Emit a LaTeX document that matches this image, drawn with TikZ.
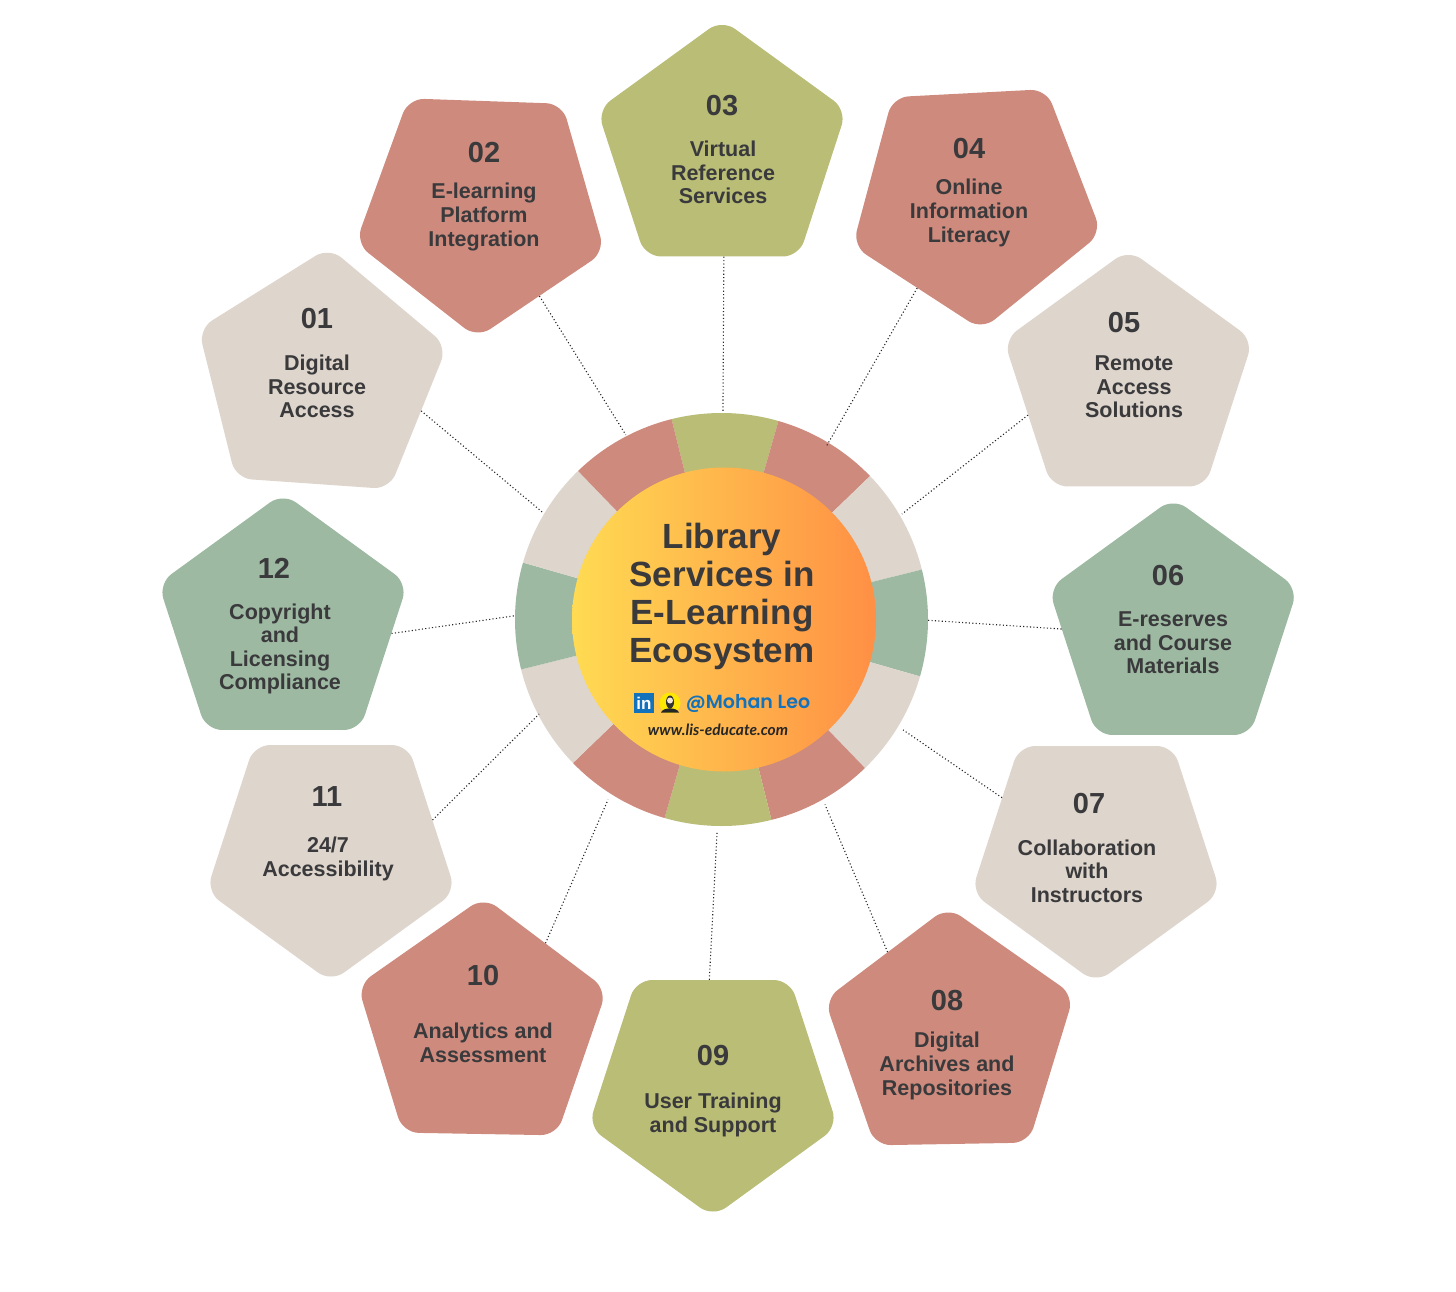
\documentclass[tikz,border=0pt]{standalone}
\usepackage{fontspec}
\setmainfont{Liberation Sans}
\newfontfamily\brandfont[BoldFont={Poppins SemiBold}]{Poppins}
\newfontfamily\webfont{Lato}
\usetikzlibrary{shapes.geometric}
\definecolor{olivec}{HTML}{B9BD76}
\definecolor{redc}{HTML}{CD8A7D}
\definecolor{beigec}{HTML}{DED5CC}
\definecolor{sagec}{HTML}{9EB9A2}
\definecolor{inkc}{HTML}{3A3A3C}
\definecolor{bluec}{HTML}{1272BC}
\definecolor{hubleft}{HTML}{FFDB52}
\definecolor{hubright}{HTML}{FF8F45}
\tikzset{
  pent/.style={regular polygon,regular polygon sides=5,minimum size=262pt,inner sep=0pt,rounded corners=16pt},
  numlab/.style={inkc,font=\bfseries\fontsize{29}{30}\selectfont},
  txtlab/.style={inkc,align=center,font=\bfseries\fontsize{21.5}{23.6}\selectfont},
  dotline/.style={line width=1.1pt,dash pattern=on 1.1pt off 2.3pt,black!85}
}
\begin{document}
\begin{tikzpicture}[x=1pt,y=1pt]
\useasboundingbox (0,0) rectangle (1456,-1292);

\node[circle,minimum size=413pt,inner sep=0pt] (ring) at (721.5,-619.5) {};
\foreach \a/\c in {74/olivec,44/redc,14/beigec,-16/sagec,-46/beigec,-76/redc,-106/olivec,-136/redc,-166/beigec,164/sagec,134/beigec,104/redc} {
  \fill[\c] (ring.center) -- ++(\a:206.5) arc[start angle=\a,delta angle=30,radius=206.5] -- cycle;
}
\node[circle,minimum size=304pt,inner sep=0pt,left color=hubleft,right color=hubright,draw=none] (hub) at (724,-619.5) {};
\node[inkc,align=center,font=\bfseries\fontsize{35}{38}\selectfont] (title) at (722,-596) {Library\\Services in\\E-Learning\\Ecosystem};

% logo line
\node[fill=bluec,text=white,minimum size=20pt,inner sep=0pt,font=\bfseries\fontsize{17}{17}\selectfont] (logo) at (644,-703) {in};
\node[circle,fill=yellow!90!orange,minimum size=21pt,inner sep=0pt] (face) at (670,-703) {};
\fill[black!85] (661,-712.5) .. controls (663,-707) and (677,-707) .. (679,-712.5) -- cycle;
\fill[black!80] (670,-702) ellipse[x radius=4,y radius=6.5];
\fill[white!80!brown] (670,-700.5) ellipse[x radius=3,y radius=3];
\node[bluec,font=\brandfont\bfseries\fontsize{19}{20}\selectfont] (handle) at (748,-703) {@Mohan Leo};
\node[black!85,font=\webfont\itshape\bfseries\fontsize{15.5}{16}\selectfont] (web) at (718,-730) {www.lis-educate.com};

\foreach \n/\x/\y/\r/\c/\nx/\ny/\lx/\ly/\t in {
  01/320/378/-4/beigec/317/319/317/386.5/{Digital\\Resource\\Access},
  02/481.6/207/178/redc/484/153/484/217/{E-learning\\Platform\\Integration},
  03/722/150.5/0/olivec/722/106/723/172.5/{Virtual\\Reference\\Services},
  04/975/199/183/redc/969/149/969/213/{Online\\Information\\Literacy},
  05/1128.4/380.5/0/beigec/1124/323/1134/387/{Remote\\Access\\Solutions},
  06/1173.2/629/0/sagec/1168/576/1173/643/{E-reserves\\and Course\\Materials},
  07/1096/852/180/beigec/1089/804/1087/871/{Collaboration\\with\\Instructors},
  08/950/1038/1/redc/947/1001/947/1066/{Digital\\Archives and\\Repositories},
  09/713/1086/180/olivec/713/1056/713/1115/{User Training\\and Support},
  10/481.6/1028/-1/redc/483/976/483/1043/{Analytics and\\Assessment},
  11/331/851/180/beigec/327/797/328/859/{24/7\\Accessibility},
  12/283/624/0/sagec/274/568/280/649/{Copyright\\and\\Licensing\\Compliance}} {
  \node[pent,fill=\c,shape border rotate=\r] (p\n) at (\x,-\y) {};
  \node[numlab] (n\n) at (\nx,-\ny) {\n};
  \node[txtlab] (t\n) at (\lx,-\ly) {\t};
}

% dotted spokes
\foreach \n/\b/\g/\d in {01/-18.6/149.1/208,02/-57.3/117.4/208,03/-89.5/89.6/207,04/237.4/58.8/202,05/199.7/30.3/209,06/180/-0.2/205.5,07/150.2/-31.3/212.5,08/126.1/-60.8/212,09/92.8/-91.2/213.5,10/53.1/-122.2/213,11/17.1/-152.6/205.5,12/-5.3/179/207.5} {
  \coordinate (r\n) at ([shift={(\g:\d)}]ring.center);
  \draw[dotline] (p\n.\b) -- (r\n);
}
\end{tikzpicture}
\end{document}
